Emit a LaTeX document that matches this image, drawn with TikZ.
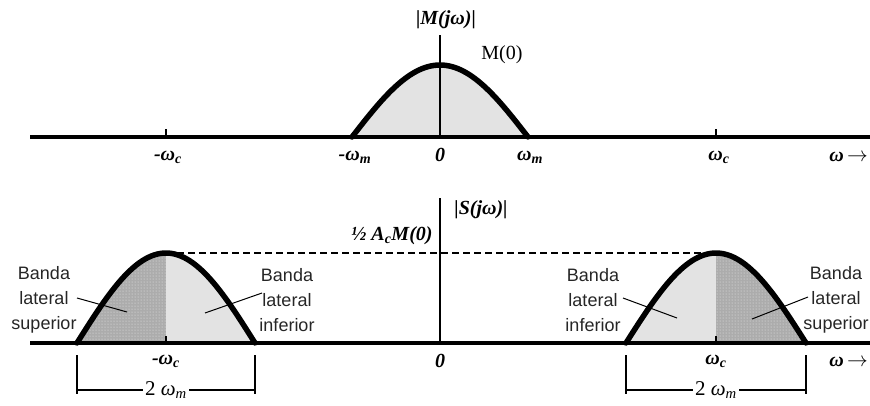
\documentclass[tikz,border=0pt]{standalone}
\usepackage{fontspec}
\setmainfont{Liberation Serif}
\newfontfamily\arialf{Liberation Sans}
\usetikzlibrary{patterns}
\begin{document}
\begin{tikzpicture}[x=1pt,y=-1pt,
  axisline/.style={line width=4.5pt},
  vaxis/.style={line width=2.2pt},
  bellline/.style={line width=5.5pt,line join=round,line cap=round},
  lbl/.style={font=\fontsize{20}{22}\selectfont\bfseries\itshape, inner sep=1pt},
  rlbl/.style={font=\fontsize{20}{22}\selectfont, inner sep=1pt},
  band/.style={font=\arialf\fontsize{18}{25}\selectfont, align=center, text=black!85},
  leader/.style={line width=1pt},
  dimline/.style={line width=1.3pt},
  lightfill/.style={fill=gray!22},
  darkfill/.style={fill=gray!65},
  stipple/.style={pattern=dots, pattern color=white!85!gray},
  tickmark/.style={line width=1.4pt}]
\useasboundingbox (0,0) rectangle (870,405);

% ---------- top spectrum ----------
\fill[lightfill] plot[domain=-1:1,samples=61] ({440+88*\x},{137-72*cos(90*\x)}) -- cycle;
\coordinate (tl) at (30,137);
\coordinate (tr) at (880,137);
\draw[axisline] (tl) -- (tr);
\coordinate (tvb) at (440,137);
\coordinate (tvt) at (440,35);
\draw[vaxis] (tvb) -- (tvt);
\coordinate (tk1a) at (166,129); \coordinate (tk1b) at (166,137);
\coordinate (tk2a) at (716,129); \coordinate (tk2b) at (716,137);
\draw[tickmark] (tk1a) -- (tk1b);
\draw[tickmark] (tk2a) -- (tk2b);
\draw[bellline] plot[domain=-1:1,samples=61] ({440+88*\x},{137-72*cos(90*\x)});

\node[lbl] (Mj) at (446,20) {|M(jω)|};
\node[rlbl] (M0) at (502,55) {M(0)};
\node[lbl] (tmwc) at (168,157) {-ω\textsubscript{c}};
\node[lbl] (tmwm) at (355,157) {-ω\textsubscript{m}};
\node[lbl] (tzero) at (440,155) {0};
\node[lbl] (twm) at (530,157) {ω\textsubscript{m}};
\node[lbl] (twc) at (719,157) {ω\textsubscript{c}};
\node[lbl, anchor=east] (tw) at (869,157) {ω\,$\rightarrow$};

% ---------- bottom spectrum ----------
% left band (centre -wc)
\fill[darkfill] plot[domain=-1:0,samples=31] ({166+89*\x},{343-90*cos(90*\x)}) -- (166,343) -- cycle;
\fill[stipple] plot[domain=-1:0,samples=31] ({166+89*\x},{343-90*cos(90*\x)}) -- (166,343) -- cycle;
\fill[lightfill] plot[domain=0:1,samples=31] ({166+89*\x},{343-90*cos(90*\x)}) -- (166,343) -- cycle;
% right band (centre wc)
\fill[lightfill] plot[domain=-1:0,samples=31] ({716+90*\x},{343-90*cos(90*\x)}) -- (716,343) -- cycle;
\fill[darkfill] plot[domain=0:1,samples=31] ({716+90*\x},{343-90*cos(90*\x)}) -- (716,343) -- cycle;
\fill[stipple] plot[domain=0:1,samples=31] ({716+90*\x},{343-90*cos(90*\x)}) -- (716,343) -- cycle;

\coordinate (bl) at (30,343);
\coordinate (br) at (880,343);
\draw[axisline] (bl) -- (br);
\coordinate (bvb) at (440,343);
\coordinate (bvt) at (440,198);
\draw[vaxis] (bvb) -- (bvt);
\coordinate (bk1a) at (166,336); \coordinate (bk1b) at (166,343);
\coordinate (bk2a) at (716,336); \coordinate (bk2b) at (716,343);
\draw[tickmark] (bk1a) -- (bk1b);
\draw[tickmark] (bk2a) -- (bk2b);

\coordinate (dl) at (166,253);
\coordinate (dr) at (716,253);
\draw[line width=1.7pt, dash pattern=on 7pt off 4pt] (dl) -- (dr);

\draw[bellline] plot[domain=-1:1,samples=61] ({166+89*\x},{343-90*cos(90*\x)});
\draw[bellline] plot[domain=-1:1,samples=61] ({716+90*\x},{343-90*cos(90*\x)});

\node[lbl] (Sj) at (481,210) {|S(jω)|};
\node[lbl] (half) at (392,236) {½ A\textsubscript{c}M(0)};
\node[lbl] (bmwc) at (166,361) {-ω\textsubscript{c}};
\node[lbl] (bzero) at (440,361) {0};
\node[lbl] (bwc) at (716,361) {ω\textsubscript{c}};
\node[lbl, anchor=east] (bw) at (869,362) {ω\,$\rightarrow$};

% band labels
\node[band] (lsup) at (44,300) {Banda\\lateral\\superior};
\node[band] (linf) at (287,300) {Banda\\lateral\\inferior};
\node[band] (rinf) at (593,300) {Banda\\lateral\\inferior};
\node[band] (rsup) at (836,300) {Banda\\lateral\\superior};

\coordinate (l1a) at (77,298);  \coordinate (l1b) at (127,312);
\coordinate (l2a) at (262,293); \coordinate (l2b) at (205,313);
\coordinate (l3a) at (623,298); \coordinate (l3b) at (677,318);
\coordinate (l4a) at (808,297); \coordinate (l4b) at (752,319);
\draw[leader] (l1a) -- (l1b);
\draw[leader] (l2a) -- (l2b);
\draw[leader] (l3a) -- (l3b);
\draw[leader] (l4a) -- (l4b);

% dimension marks
\coordinate (d1t) at (77,355);  \coordinate (d1b) at (77,394);
\coordinate (d2t) at (255,355); \coordinate (d2b) at (255,394);
\coordinate (d3t) at (626,355); \coordinate (d3b) at (626,394);
\coordinate (d4t) at (806,355); \coordinate (d4b) at (806,394);
\draw[dimline] (d1t) -- (d1b);
\draw[dimline] (d2t) -- (d2b);
\draw[dimline] (d3t) -- (d3b);
\draw[dimline] (d4t) -- (d4b);
\coordinate (h1l) at (77,390);  \coordinate (h1r) at (255,390);
\coordinate (h2l) at (626,390); \coordinate (h2r) at (806,390);
\draw[dimline] (h1l) -- node[fill=white, inner sep=2pt, font=\fontsize{21}{23}\selectfont] (w1) {2 \textit{ω\textsubscript{m}}} (h1r);
\draw[dimline] (h2l) -- node[fill=white, inner sep=2pt, font=\fontsize{21}{23}\selectfont] (w2) {2 \textit{ω\textsubscript{m}}} (h2r);
\end{tikzpicture}
\end{document}
